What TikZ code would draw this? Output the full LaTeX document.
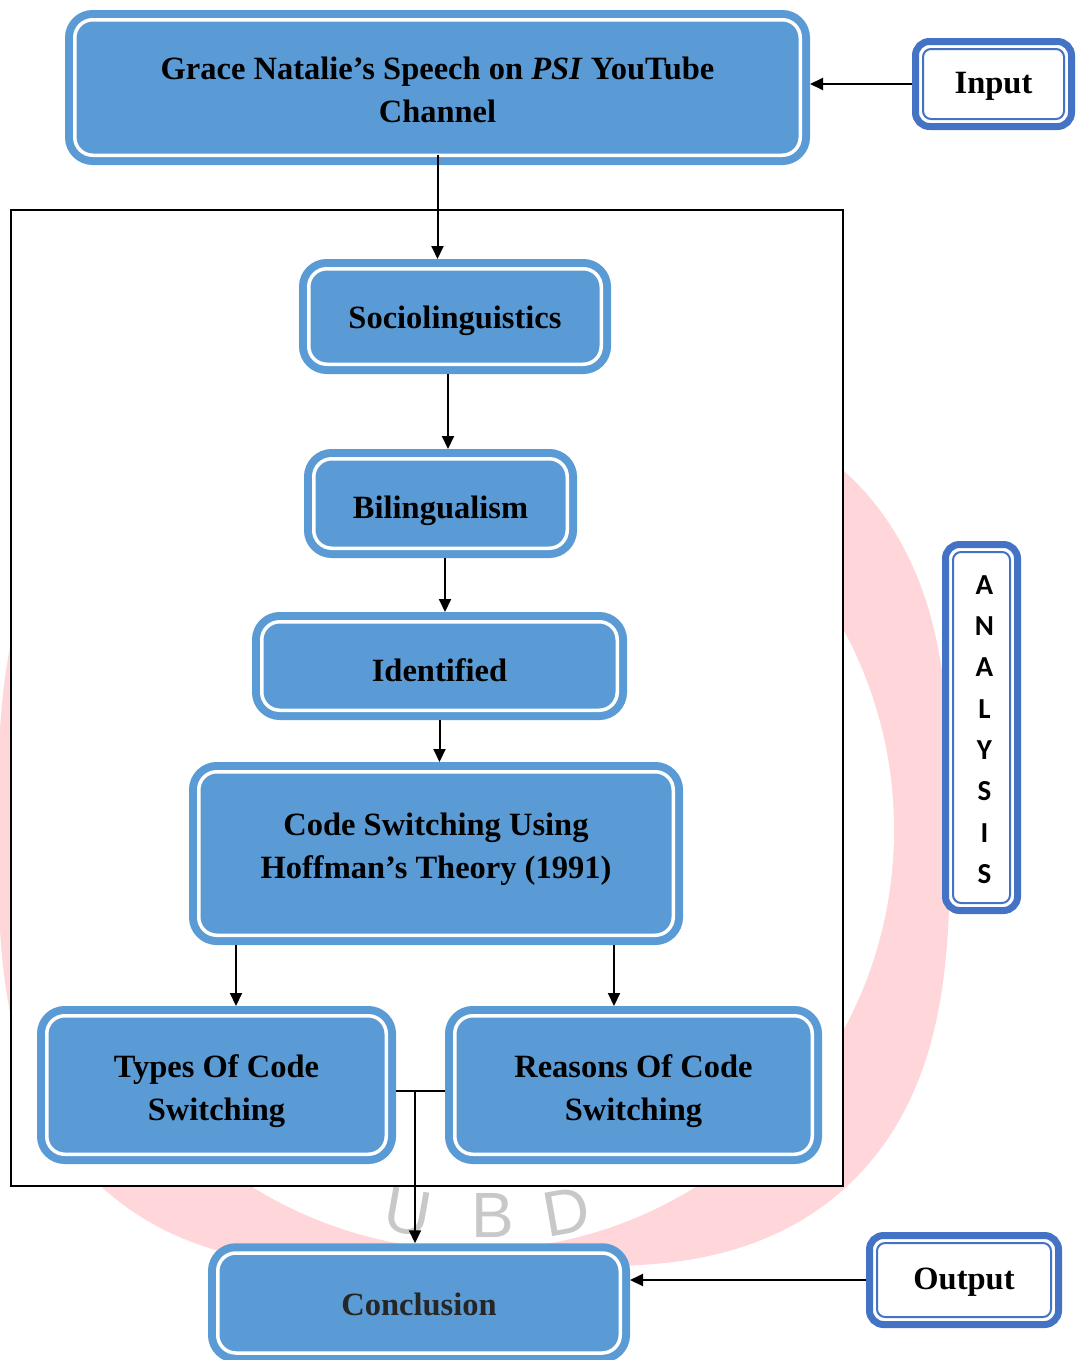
\documentclass[tikz,border=0pt]{standalone}
\usepackage{fontspec}
\usetikzlibrary{arrows.meta}
\newfontfamily\tnrfont{Liberation Serif}
\newfontfamily\calfont{Carlito}
\newfontfamily\wmfont{Liberation Sans}
\definecolor{boxblue}{RGB}{91,155,213}
\definecolor{inblue}{RGB}{68,114,196}
\definecolor{wmpink}{RGB}{255,215,218}
\definecolor{wmgrey}{RGB}{200,200,200}
\begin{document}
\begin{tikzpicture}[x=1pt,y=-1pt,
 bbox/.style={draw=boxblue, fill=boxblue, line width=8pt, double=white, double distance=3.5pt,
   rounded corners=18pt, inner sep=0pt, outer sep=9.75pt},
 wbox/.style={draw=inblue, fill=white, line width=7pt, rounded corners=14pt, inner sep=0pt,
   outer sep=3.5pt,
   path picture={\draw[inblue, line width=2pt, rounded corners=8pt]
     ([shift={(7.5pt,-7.5pt)}]path picture bounding box.north west) rectangle
     ([shift={(-7.5pt,7.5pt)}]path picture bounding box.south east);}},
 label/.style={inner sep=0pt, align=center, text=black,
   font=\tnrfont\bfseries\fontsize{32.5}{42.5}\selectfont},
 arr/.style={line width=2pt, -{Triangle[length=13pt,width=12pt]}},
 conn/.style={line width=2pt},
 framebox/.style={draw=black, fill=white, line width=1.8pt, inner sep=0pt, outer sep=0pt},
 wmletter/.style={text=wmgrey, font=\wmfont\fontsize{64}{64}\selectfont, inner sep=0pt}
]
\useasboundingbox (0,0) rectangle (1077,1360);

% watermark
\fill[wmpink] plot[domain=0:360, samples=361, variable=\t]
  ({474+(485-30*cos(4*\t)+21.5*cos(2*\t))*cos(\t)},
   {830+(485-30*cos(4*\t)+21.5*cos(2*\t))*sin(\t)}) -- cycle;
\fill[white] (474,830) circle[radius=420];
\node[wmletter, rotate=-10] (wu) at (408,1212) {U};
\node[wmletter] (wb) at (493,1215) {B};
\node[wmletter, rotate=10] (wd) at (566,1212) {D};

% frame
\node[framebox, minimum width=832pt, minimum height=976pt] (frame) at (427,698) {};

% boxes
\node[bbox, minimum width=725.5pt, minimum height=135.5pt] (top) at (437.5,87.5) {};
\node[wbox, minimum width=156pt, minimum height=85pt] (input) at (993.5,84) {};
\node[bbox, minimum width=292.5pt, minimum height=95.5pt] (socio) at (455,316.5) {};
\node[bbox, minimum width=253.5pt, minimum height=89.5pt] (bili) at (440.5,503.5) {};
\node[bbox, minimum width=355.5pt, minimum height=88.5pt] (ident) at (439.5,666) {};
\node[bbox, minimum width=474.5pt, minimum height=163.5pt] (code) at (436,853.5) {};
\node[bbox, minimum width=339.5pt, minimum height=138.5pt] (types) at (216.5,1085) {};
\node[bbox, minimum width=357.5pt, minimum height=138.5pt] (reasons) at (633.5,1085) {};
\node[bbox, minimum width=402.5pt, minimum height=100pt] (concl) at (419,1303) {};
\node[wbox, minimum width=189pt, minimum height=89pt] (output) at (964,1280) {};
\node[wbox, minimum width=72pt, minimum height=366pt] (analysis) at (981.5,727.5) {};

% texts
\node[label] (top-t) at ([yshift=-2.5pt]top.center)
  {Grace Natalie’s Speech on \textit{PSI} YouTube\\Channel};
\node[label] (input-t) at ([yshift=-2pt]input.center) {Input};
\node[label] (socio-t) at ([yshift=-4pt]socio.center) {Sociolinguistics};
\node[label] (bili-t) at ([yshift=-7pt]bili.center) {Bilingualism};
\node[label] (ident-t) at ([yshift=-4pt]ident.center) {Identified};
\node[label] (code-t) at ([yshift=4.5pt]code.center) {Code Switching Using\\Hoffman’s Theory (1991)};
\node[label] (types-t) at ([yshift=-6pt]types.center) {Types Of Code\\Switching};
\node[label] (reasons-t) at ([yshift=-6pt]reasons.center) {Reasons Of Code\\Switching};
\node[label, text=black!85] (concl-t) at ([yshift=-1pt]concl.center) {Conclusion};
\node[label] (output-t) at ([yshift=-2pt]output.center) {Output};
\node[inner sep=0pt, align=center, font=\calfont\bfseries\fontsize{29}{41.3}\selectfont]
  (analysis-t) at ([xshift=3pt,yshift=-2pt]analysis.center) {A\\N\\A\\L\\Y\\S\\I\\S};

% connectors
\draw[arr] (input.west) -- (input.west -| top.east);
\draw[arr] ([yshift=10pt]top.south) -- (top.south |- socio.north);
\draw[arr] ([xshift=-7pt]socio.south) -- ([xshift=-7pt]socio.south |- bili.north);
\draw[arr] ([xshift=4.5pt]bili.south) -- ([xshift=4.5pt]bili.south |- ident.north);
\draw[arr] (ident.south) -- (ident.south |- code.north);
\draw[arr] ([xshift=19.5pt]types.north |- code.south) -- ([xshift=19.5pt]types.north);
\draw[arr] ([xshift=-19.5pt]reasons.north |- code.south) -- ([xshift=-19.5pt]reasons.north);
\coordinate (j) at (415,1091);
\draw[conn] (types.east |- j) -- (reasons.west |- j);
\draw[arr] (j) -- (j |- concl.north);
\draw[arr] (output.west) -- (output.west -| concl.east);
\end{tikzpicture}
\end{document}
